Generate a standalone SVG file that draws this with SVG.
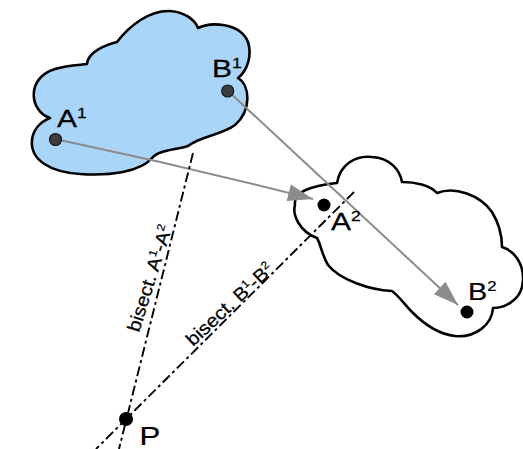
<svg xmlns="http://www.w3.org/2000/svg" width="523" height="449" viewBox="0 0 523 449">
<style>
.cloud{stroke:#000;stroke-width:2.6;stroke-linejoin:round}
.arrow{stroke:#8c8c8c;stroke-width:2;fill:none;marker-end:url(#ah)}
.bis{stroke:#000;stroke-width:1.9;stroke-dasharray:10 3.5 3 3.5;fill:none}
.lbl{font-family:"Liberation Sans",Arial,sans-serif;fill:#000;stroke:#000;stroke-width:0.25}
.dot1{fill:#3e3e3e;stroke:#151515;stroke-width:1.2}
.dot2{fill:#000}
</style>
<defs>
<marker id="ah" markerUnits="userSpaceOnUse" markerWidth="30" markerHeight="20" viewBox="-26 -10 30 20" refX="0" refY="0" orient="auto">
<path d="M0,0 L-25,-8.5 L-25,8.5 Z" fill="#8c8c8c"/>
</marker>
</defs>
<g id="cloud1">
<path class="cloud" fill="#a8d5f8" d="M50,118 C30,112 25,78 55,69 C68,65 80,65 87,64 C88,52 105,45 117,42 C130,25 150,10 170,11 C185,12 195,20 198,28 C210,22 240,22 248,42 C252,55 248,70 238,78 C250,85 252,110 235,125 C222,135 200,136 188,146 C175,150 158,150 152,158 C140,172 110,176 80,174 C50,172 30,160 32,140 C33,130 40,122 50,118 Z"/>
</g>
<g id="cloud2">
<path class="cloud" fill="#fff" d="M295,205 C293,192 310,186 337,183 C340,165 355,155 372,157 C390,158 400,170 402,182 C415,182 430,185 437,193 C455,186 480,195 492,212 C500,225 502,238 502,247 C518,252 526,270 522,287 C519,300 505,308 493,308 C492,325 475,338 455,336 C435,334 420,320 412,312 C405,305 398,295 392,291 C370,290 340,280 328,265 C322,255 321,245 317,238 C300,232 292,215 295,205 Z"/>
</g>
<g id="connectors">
<path class="arrow" d="M55,139 Q184,166 313,199"/>
<path class="arrow" d="M228,91 L458,305"/>
<path class="bis" d="M193,153 L119,449"/>
<path class="bis" d="M354,192 L96,449"/>
</g>
<g id="pointA1">
<circle class="dot1" cx="55.5" cy="139.5" r="6"/>
<text class="lbl" font-size="24" transform="translate(57,127) scale(1.25,1)">A<tspan font-size="14" dy="-9">1</tspan></text>
</g>
<g id="pointB1">
<circle class="dot1" cx="227.7" cy="91" r="6"/>
<text class="lbl" font-size="24" transform="translate(212,77) scale(1.25,1)">B<tspan font-size="14" dy="-9">1</tspan></text>
</g>
<g id="pointA2">
<circle class="dot2" cx="324" cy="205" r="6.5"/>
<text class="lbl" font-size="24" transform="translate(331,230) scale(1.25,1)">A<tspan font-size="14" dy="-9">2</tspan></text>
</g>
<g id="pointB2">
<circle class="dot2" cx="467" cy="312" r="6.5"/>
<text class="lbl" font-size="24" transform="translate(468,300) scale(1.2,1)">B<tspan font-size="14" dy="-9">2</tspan></text>
</g>
<g id="pointP">
<circle class="dot2" cx="126" cy="419" r="7"/>
<text class="lbl" font-size="26" transform="translate(139.5,445) scale(1.2,1)">P</text>
</g>
<g id="labelBisectA">
<text class="lbl" font-size="18.5" transform="translate(139,333) rotate(-72.5) scale(1.1,1)">bisect. A<tspan font-size="11" dy="-7">1</tspan><tspan dy="7">-A</tspan><tspan font-size="11" dy="-7">2</tspan></text>
</g>
<g id="labelBisectB">
<text class="lbl" font-size="18.5" transform="translate(193,347) rotate(-43) scale(1.1,1)">bisect. B<tspan font-size="11" dy="-7">1</tspan><tspan dy="7">-B</tspan><tspan font-size="11" dy="-7">2</tspan></text>
</g>
</svg>
